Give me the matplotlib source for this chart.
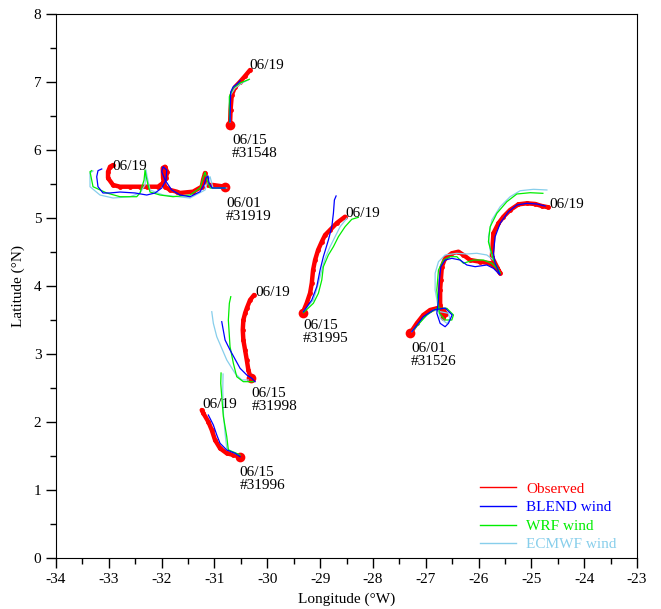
import matplotlib.pyplot as plt
import numpy as np
from matplotlib.lines import Line2D
from matplotlib.ticker import MultipleLocator

plt.rcParams['font.family'] = ['Liberation Serif', 'DejaVu Serif']
plt.rcParams['axes.unicode_minus'] = False

# drifter tracks, (lon, lat) pairs
# 31548, 06/15 - 06/19
obs_31548 = [(-30.705, 6.368), (-30.695, 6.588), (-30.672, 6.809), (-30.610, 6.926),
             (-30.515, 7.004), (-30.420, 7.088), (-30.326, 7.176)]
blend_31548 = [(-30.705, 6.416), (-30.699, 6.662), (-30.692, 6.853), (-30.648, 6.926),
               (-30.572, 6.971), (-30.515, 7.019)]
wrf_31548 = [(-30.714, 6.412), (-30.718, 6.662), (-30.718, 6.784), (-30.648, 6.912),
             (-30.515, 6.985), (-30.339, 7.040)]
ecmwf_31548 = [(-30.705, 6.412), (-30.705, 6.662), (-30.695, 6.809), (-30.610, 6.912),
               (-30.477, 6.985), (-30.364, 7.029)]

# 31919, 06/01 - 06/19
obs_31919 = [(-30.799, 5.460), (-31.027, 5.485), (-31.121, 5.485), (-31.159, 5.559),
             (-31.178, 5.662), (-31.216, 5.559), (-31.241, 5.460), (-31.405, 5.387),
             (-31.652, 5.368), (-31.714, 5.387), (-31.841, 5.412), (-31.936, 5.460),
             (-31.973, 5.588), (-31.979, 5.735), (-31.936, 5.754), (-31.898, 5.681),
             (-31.917, 5.588), (-31.973, 5.515), (-32.068, 5.460), (-32.282, 5.460),
             (-32.409, 5.460), (-32.598, 5.460), (-32.788, 5.460), (-32.920, 5.485),
             (-33.015, 5.588), (-33.015, 5.681), (-32.977, 5.754), (-32.920, 5.779)]
blend_31919 = [(-30.799, 5.441), (-31.045, 5.441), (-31.102, 5.515), (-31.121, 5.618),
               (-31.159, 5.588), (-31.197, 5.485), (-31.273, 5.387), (-31.462, 5.313),
               (-31.652, 5.338), (-31.809, 5.412), (-31.936, 5.559), (-31.998, 5.681),
               (-31.973, 5.754), (-31.903, 5.706), (-31.917, 5.559), (-31.998, 5.441),
               (-32.125, 5.368), (-32.282, 5.338), (-32.504, 5.368), (-32.788, 5.382),
               (-32.977, 5.368), (-33.110, 5.368), (-33.205, 5.460), (-33.229, 5.607),
               (-33.205, 5.696), (-33.134, 5.721)]
wrf_31919 = [(-30.799, 5.441), (-31.083, 5.441), (-31.140, 5.559), (-31.178, 5.676),
             (-31.216, 5.588), (-31.273, 5.441), (-31.462, 5.338), (-31.784, 5.313),
             (-32.030, 5.338), (-32.220, 5.382), (-32.258, 5.485), (-32.295, 5.618),
             (-32.314, 5.706), (-32.333, 5.559), (-32.409, 5.368), (-32.472, 5.313),
             (-32.788, 5.313), (-33.040, 5.368), (-33.299, 5.460), (-33.356, 5.681),
             (-33.324, 5.696)]
ecmwf_31919 = [(-30.767, 5.441), (-31.027, 5.441), (-31.083, 5.607), (-31.121, 5.559),
               (-31.178, 5.412), (-31.462, 5.294), (-31.973, 5.338), (-32.220, 5.412),
               (-32.277, 5.618), (-32.295, 5.706), (-32.314, 5.485), (-32.409, 5.368),
               (-32.598, 5.313), (-32.920, 5.294), (-33.167, 5.338), (-33.356, 5.460),
               (-33.356, 5.662), (-33.299, 5.691)]

# 31995, 06/15 - 06/19
obs_31995 = [(-29.328, 3.607), (-29.252, 3.750), (-29.189, 3.897), (-29.157, 4.044),
             (-29.133, 4.235), (-29.095, 4.382), (-29.038, 4.529), (-28.968, 4.651),
             (-28.905, 4.750), (-28.811, 4.824), (-28.684, 4.926), (-28.527, 5.019)]
blend_31995 = [(-29.316, 3.622), (-29.157, 3.794), (-29.063, 3.990), (-29.000, 4.235),
               (-28.938, 4.431), (-28.843, 4.676), (-28.778, 4.872), (-28.748, 5.069),
               (-28.729, 5.265), (-28.697, 5.324)]
wrf_31995 = [(-29.316, 3.607), (-29.127, 3.746), (-29.032, 3.893), (-28.968, 4.088),
             (-28.938, 4.284), (-28.843, 4.456), (-28.748, 4.578), (-28.653, 4.725),
             (-28.527, 4.872), (-28.400, 4.981), (-28.275, 5.010)]
ecmwf_31995 = [(-29.316, 3.622), (-29.127, 3.794), (-29.032, 4.040), (-28.968, 4.235),
               (-28.905, 4.407), (-28.811, 4.578), (-28.716, 4.725), (-28.621, 4.872),
               (-28.494, 4.996)]

# 31526, 06/01 - 06/19
obs_31526 = [(-27.295, 3.304), (-27.169, 3.451), (-27.044, 3.574), (-26.917, 3.647),
             (-26.790, 3.672), (-26.665, 3.647), (-26.614, 3.584), (-26.670, 3.529),
             (-26.727, 3.721), (-26.727, 3.941), (-26.714, 4.088), (-26.695, 4.284),
             (-26.633, 4.407), (-26.506, 4.481), (-26.381, 4.504), (-26.286, 4.456),
             (-26.159, 4.382), (-25.970, 4.357), (-25.780, 4.334), (-25.653, 4.260),
             (-25.591, 4.187), (-25.748, 4.431), (-25.718, 4.775), (-25.623, 4.922),
             (-25.528, 5.019), (-25.402, 5.118), (-25.244, 5.201), (-25.085, 5.216),
             (-24.928, 5.206), (-24.801, 5.176), (-24.676, 5.157)]
blend_31526 = [(-27.263, 3.328), (-27.044, 3.549), (-26.854, 3.647), (-26.633, 3.676),
               (-26.500, 3.574), (-26.570, 3.451), (-26.633, 3.401), (-26.727, 3.451),
               (-26.790, 3.599), (-26.759, 3.794), (-26.741, 4.088), (-26.714, 4.284),
               (-26.633, 4.382), (-26.506, 4.407), (-26.348, 4.382), (-26.222, 4.309),
               (-26.064, 4.284), (-25.843, 4.309), (-25.718, 4.260), (-25.591, 4.162),
               (-25.686, 4.334), (-25.718, 4.481), (-25.686, 4.725), (-25.591, 4.922),
               (-25.434, 5.093), (-25.275, 5.191), (-25.085, 5.216), (-24.896, 5.206),
               (-24.739, 5.176)]
wrf_31526 = [(-27.233, 3.353), (-26.979, 3.574), (-26.790, 3.672), (-26.600, 3.672),
             (-26.475, 3.574), (-26.506, 3.500), (-26.633, 3.500), (-26.741, 3.599),
             (-26.790, 3.941), (-26.759, 4.235), (-26.665, 4.382), (-26.538, 4.431),
             (-26.411, 4.431), (-26.286, 4.334), (-26.097, 4.382), (-25.907, 4.382),
             (-25.748, 4.334), (-25.623, 4.235), (-25.591, 4.187), (-25.718, 4.382),
             (-25.813, 4.651), (-25.780, 4.872), (-25.653, 5.069), (-25.464, 5.240),
             (-25.275, 5.353), (-25.023, 5.372), (-24.782, 5.363)]
ecmwf_31526 = [(-27.263, 3.328), (-27.044, 3.525), (-26.854, 3.647), (-26.727, 3.622),
               (-26.570, 3.599), (-26.538, 3.500), (-26.600, 3.451), (-26.727, 3.529),
               (-26.822, 3.941), (-26.822, 4.187), (-26.759, 4.357), (-26.633, 4.456),
               (-26.411, 4.481), (-26.222, 4.471), (-26.032, 4.481), (-25.843, 4.456),
               (-25.718, 4.382), (-25.780, 4.529), (-25.813, 4.725), (-25.748, 4.971),
               (-25.591, 5.166), (-25.402, 5.313), (-25.212, 5.401), (-24.960, 5.422),
               (-24.706, 5.412)]

# 31998, 06/15 - 06/19
obs_31998 = [(-30.313, 2.643), (-30.358, 2.765), (-30.388, 2.912), (-30.420, 3.059),
             (-30.453, 3.206), (-30.464, 3.353), (-30.453, 3.500), (-30.420, 3.599),
             (-30.388, 3.672), (-30.326, 3.794), (-30.250, 3.868)]
blend_31998 = [(-30.231, 2.593), (-30.294, 2.643), (-30.388, 2.691), (-30.515, 2.790),
               (-30.705, 3.059), (-30.799, 3.206), (-30.862, 3.475)]
wrf_31998 = [(-30.263, 2.593), (-30.453, 2.593), (-30.578, 2.666), (-30.642, 2.863),
             (-30.705, 3.107), (-30.737, 3.500), (-30.718, 3.746), (-30.691, 3.843)]
ecmwf_31998 = [(-30.358, 2.618), (-30.483, 2.618), (-30.610, 2.716), (-30.767, 2.912),
               (-30.956, 3.254), (-31.021, 3.451), (-31.051, 3.622)]

# 31996, 06/15 - 06/19
obs_31996 = [(-30.515, 1.490), (-30.642, 1.515), (-30.767, 1.540), (-30.894, 1.613),
             (-30.989, 1.735), (-31.051, 1.882), (-31.116, 2.004), (-31.210, 2.128),
             (-31.241, 2.176)]
blend_31996 = [(-30.515, 1.490), (-30.610, 1.540), (-30.767, 1.588), (-30.894, 1.687),
               (-30.956, 1.809), (-31.021, 1.956), (-31.116, 2.103)]
wrf_31996 = [(-30.515, 1.515), (-30.610, 1.549), (-30.737, 1.588), (-30.767, 1.784),
             (-30.831, 2.078), (-30.862, 2.372), (-30.881, 2.569), (-30.875, 2.721)]
ecmwf_31996 = [(-30.547, 1.515), (-30.672, 1.563), (-30.767, 1.613), (-30.799, 1.834),
               (-30.831, 2.128), (-30.843, 2.471), (-30.837, 2.706)]

# annotations: (lon, lat, text, vertical alignment)
labels = [
    (-30.33, 7.24, '06/19', 'center'), (-30.67, 6.24, '06/15\n#31548', 'top'),
    (-32.94, 5.75, '06/19', 'center'), (-30.78, 5.31, '06/01\n#31919', 'top'),
    (-28.53, 5.06, '06/19', 'center'), (-29.32, 3.52, '06/15\n#31995', 'top'),
    (-24.66, 5.20, '06/19', 'center'), (-27.28, 3.18, '06/01\n#31526', 'top'),
    (-30.23, 3.91, '06/19', 'center'), (-30.30, 2.52, '06/15\n#31998', 'top'),
    (-31.23, 2.25, '06/19', 'center'), (-30.52, 1.36, '06/15\n#31996', 'top'),
]

series_names = ['Observed', 'BLEND wind', 'WRF wind', 'ECMWF wind']
series_colors = ['#ff0000', '#0000ff', '#00ee00', '#87ceeb']

tracks = [
    (obs_31548, blend_31548, wrf_31548, ecmwf_31548),
    (obs_31919, blend_31919, wrf_31919, ecmwf_31919),
    (obs_31995, blend_31995, wrf_31995, ecmwf_31995),
    (obs_31526, blend_31526, wrf_31526, ecmwf_31526),
    (obs_31998, blend_31998, wrf_31998, ecmwf_31998),
    (obs_31996, blend_31996, wrf_31996, ecmwf_31996),
]

fig = plt.figure(figsize=(6.61, 6.09), dpi=100)
ax = fig.add_axes([56 / 661, 51 / 609, 581 / 661, 544 / 609])

for obs, blend, wrf, ecmwf in tracks:
    o = np.array(obs)
    ax.plot(o[:, 0], o[:, 1], color=series_colors[0], lw=3.2,
            solid_capstyle='round', zorder=2)
    ax.plot(o[:, 0], o[:, 1], 'o', color=series_colors[0], ms=3.5, mew=0, zorder=2)
    ax.plot(o[0, 0], o[0, 1], 'o', color=series_colors[0], ms=7, mew=0, zorder=2)
    for s, c in zip((ecmwf, wrf, blend), series_colors[:0:-1]):
        a = np.array(s)
        ax.plot(a[:, 0], a[:, 1], color=c, lw=0.9, zorder=3)

for x, y, t, va in labels:
    ax.text(x, y, t, fontsize=11, ha='left', va=va, linespacing=1.0, zorder=4)

handles = [Line2D([], [], color=c, lw=1) for c in series_colors]
ax.legend(handles, series_names, loc='lower right', frameon=False, fontsize=11,
          labelcolor='linecolor', handlelength=2.4, handletextpad=0.65,
          labelspacing=0.32, borderpad=0, borderaxespad=0,
          bbox_to_anchor=(0.965, 0.012))

ax.set_xlim(-34, -23)
ax.set_ylim(0, 8)
ax.xaxis.set_major_locator(MultipleLocator(1))
ax.xaxis.set_minor_locator(MultipleLocator(0.5))
ax.yaxis.set_major_locator(MultipleLocator(1))
ax.yaxis.set_minor_locator(MultipleLocator(0.5))
ax.tick_params(which='both', direction='out', top=False, right=False, labelsize=11)
ax.tick_params(which='major', length=7, width=1)
ax.tick_params(which='minor', length=4, width=1)
ax.set_xlabel('Longitude (°W)', fontsize=11, labelpad=5)
ax.set_ylabel('Latitude (°N)', fontsize=11, labelpad=6)

fig.savefig('out.png', dpi=100)
